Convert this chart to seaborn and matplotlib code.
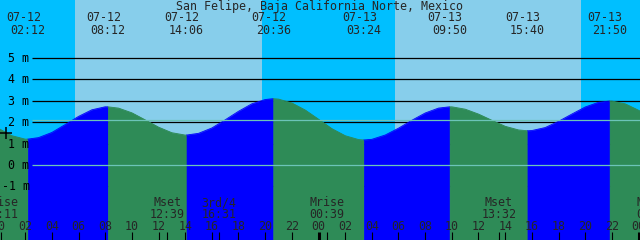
import matplotlib
matplotlib.use("Agg")
import matplotlib.pyplot as plt
import numpy as np
import pandas as pd
import seaborn as sns

# ---------------- data ----------------
title = "San Felipe, Baja California Norte, Mexico"

tide_hours = [0, 1, 2, 2.2, 3, 4, 5, 6, 7, 8, 8.2, 9, 10, 11, 12, 13, 14, 14.1,
              15, 16, 17, 18, 19, 20, 20.6, 21, 22, 23, 24, 25, 26, 27, 27.4,
              28, 29, 30, 31, 32, 33, 33.83, 34, 35, 36, 37, 38, 39, 39.67,
              40, 41, 42, 43, 44, 45, 45.83, 46, 47, 48, 48.2]
tide_m = [1.71, 1.37, 1.21, 1.21, 1.28, 1.52, 1.89, 2.27, 2.58, 2.72, 2.72, 2.66,
          2.44, 2.11, 1.77, 1.51, 1.40, 1.40, 1.48, 1.73, 2.11, 2.51, 2.86, 3.06,
          3.10, 3.08, 2.90, 2.57, 2.14, 1.70, 1.37, 1.19, 1.17, 1.20, 1.40, 1.72,
          2.09, 2.43, 2.66, 2.72, 2.72, 2.61, 2.38, 2.09, 1.81, 1.64, 1.60, 1.61,
          1.75, 2.04, 2.38, 2.71, 2.93, 2.99, 2.99, 2.86, 2.56, 2.49]

extreme_hours = [2.2, 8.2, 14.1, 20.6, 27.4, 33.83, 39.67, 45.83]
extreme_kind = ["low", "high", "low", "high", "low", "high", "low", "high"]
extreme_dates = ["07-12", "07-12", "07-12", "07-12", "07-13", "07-13", "07-13", "07-13"]
extreme_times = ["02:12", "08:12", "14:06", "20:36", "03:24", "09:50", "15:40", "21:50"]

sun_events = [5.74, 19.77, 29.74, 43.70]     # sunrise, sunset, sunrise, sunset

moon_hours = [0.18, 12.65, 16.52, 24.65, 37.53, 49.13]
moon_names = ["Mrise", "Mset", "3rd/4", "Mrise", "Mset", "Mrise"]
moon_times = ["00:11", "12:39", "16:31", "00:39", "13:32", "01:08"]

level_ticks = [-1, 0, 1, 2, 3, 4, 5]
level_labels = ["-1 m", "0 m", "1 m", "2 m", "3 m", "4 m", "5 m"]
datum_lines = [0.0, 2.1]
mark_level = 1.48

hour_ticks = list(range(0, 49, 2))
hour_labels = ["%02d" % (h % 24) for h in hour_ticks]

# ---------------- style ----------------
NIGHT = "#00BFFF"
DAY = "#87CEEB"
RISE = "#0000FF"
FALL = "#2E8B57"
DATUM = "#6CC4B8"

sns.set_theme(style="white")
plt.rcParams['font.family'] = ['DejaVu Sans Mono', 'DejaVu Sans']
FS = 8.4

W, H = 640, 240
X0, X1 = 0.1125, 48.1125
Y0, Y1 = -3.505, 7.71


def hx(px):
    return X0 + px / W * (X1 - X0)


def vy(py):
    return Y1 - py / H * (Y1 - Y0)


def pxh(h):
    return (h - X0) / (X1 - X0) * W


fig = plt.figure(figsize=(6.4, 2.4), dpi=100)
ax = fig.add_axes([0, 0, 1, 1])
ax.set_xlim(X0, X1)
ax.set_ylim(Y0, Y1)
ax.axis("off")

# sky
bounds = [X0 - 1] + sun_events + [X1 + 1]
for i in range(len(bounds) - 1):
    ax.axvspan(bounds[i], bounds[i + 1], color=NIGHT if i % 2 == 0 else DAY,
               lw=0, zorder=0)

# black level lines (behind water)
hstart = hx(32)
ax.hlines(level_ticks, hstart, X1 + 1, color="black", lw=0.9, zorder=1)

# water
df = pd.DataFrame({"hour": tide_hours, "level": tide_m})
segb = [-1e9] + extreme_hours + [1e9]
for i in range(len(segb) - 1):
    if i == 0:
        col = FALL if extreme_kind[0] == "low" else RISE
    else:
        col = RISE if extreme_kind[i - 1] == "low" else FALL
    seg = df[(df.hour >= segb[i]) & (df.hour <= segb[i + 1])]
    ax.fill_between(seg.hour, seg.level, Y0 - 1, color=col, lw=0.4,
                    edgecolor=col, zorder=2)
    sns.lineplot(data=seg, x="hour", y="level", color=col, lw=0.6,
                 ax=ax, zorder=2, legend=False)
ax.set_xlim(X0, X1)
ax.set_ylim(Y0, Y1)
ax.axis("off")

# datum lines (over water)
ax.hlines(datum_lines, hstart, X1 + 1, color=DATUM, lw=0.9, zorder=3)

# level labels
for v, lab in zip(level_ticks, level_labels):
    ax.text(hx(29.5), v - 4 / H * (Y1 - Y0), lab, ha="right", va="baseline",
            fontsize=FS, color="black", zorder=5)

# mark
ax.plot([hx(6)], [mark_level], marker="+", ms=9, mew=1.1, color="black", zorder=5)

# title and extremes
ax.text(hx(320), vy(10), title, ha="center", va="baseline", fontsize=FS, zorder=5)
for h, d, t in zip(extreme_hours, extreme_dates, extreme_times):
    ax.text(hx(pxh(h) - 4.5), vy(21), d, ha="center", va="baseline", fontsize=FS, zorder=5)
    ax.text(h, vy(34), t, ha="center", va="baseline", fontsize=FS, zorder=5)

# moon events
for h, n, t in zip(moon_hours, moon_names, moon_times):
    ax.text(h, vy(206), n, ha="center", va="baseline", fontsize=FS, zorder=5)
    ax.text(h, vy(218), t, ha="center", va="baseline", fontsize=FS, zorder=5)

# hour labels
for h, lab in zip(hour_ticks, hour_labels):
    ax.text(h, vy(230), lab, ha="center", va="baseline", fontsize=FS, zorder=5)

# ticks
for h in hour_ticks:
    lw = 2.2 if h % 24 == 0 else 0.8
    ax.vlines(h, Y0 - 1, vy(232), color="black", lw=lw, zorder=5)
for h in moon_hours:
    ax.vlines(h, Y0 - 1, vy(232), color="black", lw=0.8, zorder=5)

fig.savefig("out.png", dpi=100)
